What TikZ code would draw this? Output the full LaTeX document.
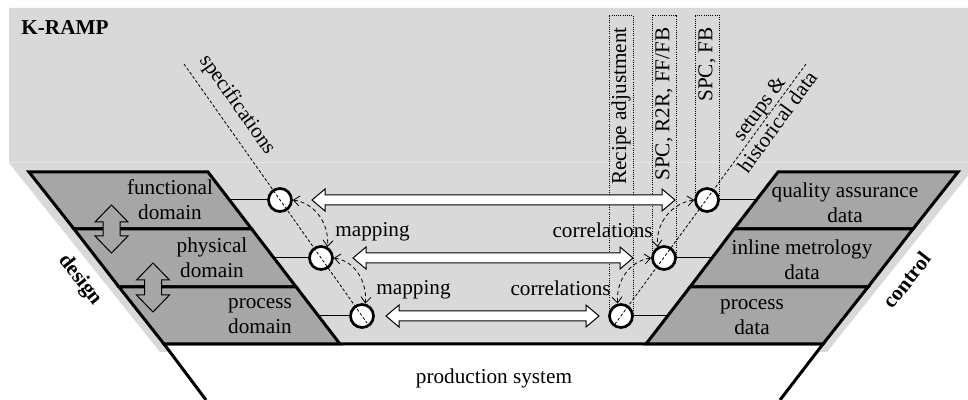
\documentclass[tikz,border=0pt]{standalone}
\usepackage{fontspec}
\setmainfont{Liberation Serif}
\usetikzlibrary{arrows.meta,calc}
\pgfdeclarelayer{back}
\pgfsetlayers{back,main}
\definecolor{bglight}{HTML}{D9D9D9}
\definecolor{bgseam}{HTML}{E4E4E4}
\definecolor{blockgray}{HTML}{A6A6A6}

% fat white double arrow between two junctions (offsets from the centres)
\newcommand{\hdarrow}[4]{%
  \draw[fatarrow] let \p1=($(#1)+(#3,0)$), \p2=($(#2)-(#4,0)$) in
    (\x1,\y1) -- ({\x1+6.5pt},{\y1+5.5pt}) -- ({\x1+6.5pt},{\y1+2.5pt})
    -- ({\x2-6.5pt},{\y1+2.5pt}) -- ({\x2-6.5pt},{\y1+5.5pt}) -- (\x2,\y1)
    -- ({\x2-6.5pt},{\y1-5.5pt}) -- ({\x2-6.5pt},{\y1-2.5pt})
    -- ({\x1+6.5pt},{\y1-2.5pt}) -- ({\x1+6.5pt},{\y1-5.5pt}) -- cycle;}
% vertical double arrow between domains: x, top tip, bottom tip
\newcommand{\vdarrow}[3]{%
  \draw[vertarrow] (#1,#2) -- ({#1+16.5},{#2+17}) -- ({#1+8.5},{#2+17})
    -- ({#1+8.5},{#3-17}) -- ({#1+16.5},{#3-17}) -- (#1,#3)
    -- ({#1-16.5},{#3-17}) -- ({#1-8.5},{#3-17}) -- ({#1-8.5},{#2+17})
    -- ({#1-16.5},{#2+17}) -- cycle;}

\begin{document}
\begin{tikzpicture}[x=0.5pt,y=-0.5pt,
  lbl/.style={font=\fontsize{10.6}{12.5}\selectfont, inner sep=0pt, align=center},
  boldlbl/.style={font=\fontsize{10.6}{12.5}\selectfont\bfseries, inner sep=0pt, align=center},
  blockshape/.style={fill=blockgray, draw=black, line width=1.5pt, line join=miter},
  junction/.style={circle, draw=black, fill=white, line width=1.35pt, minimum size=11.5pt, inner sep=0pt},
  feeder/.style={line width=0.5pt},
  fatarrow/.style={fill=white, draw=black, line width=0.5pt, line join=miter},
  vertarrow/.style={fill=blockgray, draw=black, line width=0.5pt, line join=miter},
  tieline/.style={line width=0.4pt, dash pattern=on 2pt off 1.5pt,
    {Straight Barb[length=3pt,width=5pt]}-{Straight Barb[length=3pt,width=5pt]}},
  guide/.style={line width=0.4pt, dash pattern=on 1.5pt off 1pt},
  dotbox/.style={line width=0.4pt, dash pattern=on 0.5pt off 0.6pt}
]
\useasboundingbox (0,0) rectangle (968,400);

% junctions of the design side (L) and the control side (R)
\node[junction] (L1) at (280,200) {};
\node[junction] (L2) at (321,258) {};
\node[junction] (L3) at (362,316) {};
\node[junction] (R1) at (707,200) {};
\node[junction] (R2) at (664,258) {};
\node[junction] (R3) at (621,316) {};

\begin{pgfonlayer}{back}
  \fill[white] (0,0) rectangle (968,400);
  % K-RAMP area
  \fill[bglight] (9,8) -- (968,8) -- (968,175.5) -- (827,352) -- (160,352) -- (9,163) -- cycle;
  \draw[bgseam, line width=0.5pt] (9,163) -- (968,163);
  % production system
  \fill[white] (164,344) -- (823,344) -- (780,400) -- (206,400) -- cycle;
  \draw[line width=1.5pt] (206,400) -- (164,344) -- (823,344) -- (780,400);

  % block-to-junction connectors
  \coordinate (L1e) at (220,200);
  \coordinate (L2e) at (260,258);
  \coordinate (L3e) at (305,316);
  \coordinate (R1e) at (770,200);
  \coordinate (R2e) at (725,258);
  \coordinate (R3e) at (680,316);
  \draw[feeder] (L1e) -- (L1);
  \draw[feeder] (L2e) -- (L2);
  \draw[feeder] (L3e) -- (L3);
  \draw[feeder] (R1e) -- (R1);
  \draw[feeder] (R2e) -- (R2);
  \draw[feeder] (R3e) -- (R3);

  % design domains
  \draw[blockshape] (29,172) -- (208,172) -- (251.7,229) -- (74,229) -- cycle;
  \draw[blockshape] (74,229) -- (251.7,229) -- (296.2,287) -- (119,287) -- cycle;
  \draw[blockshape] (119,287) -- (296.2,287) -- (340,344) -- (164,344) -- cycle;
  % control data
  \draw[blockshape] (778,172) -- (958,172) -- (913,229) -- (734,229) -- cycle;
  \draw[blockshape] (734,229) -- (913,229) -- (868,287) -- (690,287) -- cycle;
  \draw[blockshape] (690,287) -- (868,287) -- (823,344) -- (646,344) -- cycle;

  \vdarrow{111.5}{205}{253}
  \vdarrow{153}{263}{312}

  % control method boxes
  \draw[dotbox] (609,316) -- (609,15) -- (633,15) -- (633,316);
  \draw[dotbox] (652,258) -- (652,15) -- (676,15) -- (676,258);
  \draw[dotbox] (695,200) -- (695,15) -- (719,15) -- (719,200);
\end{pgfonlayer}

\node[lbl, rotate=90, anchor=east] (ctlA) at (621,27) {Recipe adjustment};
\node[lbl, rotate=90, anchor=east] (ctlB) at (664,27) {SPC, R2R, FF/FB};
\node[lbl, rotate=90, anchor=east] (ctlC) at (707,27) {SPC, FB};

% correspondence arrows
\hdarrow{L1}{R1}{32}{32}
\hdarrow{L2}{R2}{32}{31}
\hdarrow{L3}{R3}{24}{22}

% input lines
\coordinate (specTop) at (184,64);
\coordinate (specEnd) at (367,323);
\coordinate (setTop) at (806,64);
\coordinate (setEnd) at (615,324);
\draw[guide] (specTop) -- (specEnd);
\draw[guide] (setTop) -- (setEnd);

% mapping and correlation arrows
\draw[tieline] (L1.east) to[out=-8,in=85] (L2.60);
\draw[tieline] (L2.east) to[out=-8,in=85] (L3.75);
\draw[tieline] (R1.west) to[out=188,in=95] (R2.120);
\draw[tieline] (R2.west) to[out=188,in=95] (R3.105);

% texts
\node[boldlbl, anchor=base west] (title) at (21,35) {K-RAMP};
\node[boldlbl, rotate=-51.8] (design) at (80,280) {design};
\node[boldlbl, rotate=51.8] (control) at (907,280) {control};
\node[lbl, rotate=-54.8] (spec) at (237,105) {specifications};
\node[lbl, rotate=54, font=\fontsize{10.6}{11.5}\selectfont] (setups) at (768,115) {setups \&\\historical data};

\node[lbl] (fd) at (170,200) {functional\\domain};
\node[lbl] (pd) at (212,258) {physical\\domain};
\node[lbl] (prd) at (260,316) {process\\domain};
\node[lbl] (qa) at (845,203) {quality assurance\\data};
\node[lbl] (im) at (802,260) {inline metrology\\data};
\node[lbl] (pdata) at (752,317) {process\\data};

\node[lbl, anchor=west] (map1) at (335,232) {mapping};
\node[lbl, anchor=west] (map2) at (376,290) {mapping};
\node[lbl, anchor=east] (cor1) at (653,230) {correlations};
\node[lbl, anchor=east] (cor2) at (611,288) {correlations};

\node[lbl] (prod) at (494,378) {production system};
\end{tikzpicture}
\end{document}
